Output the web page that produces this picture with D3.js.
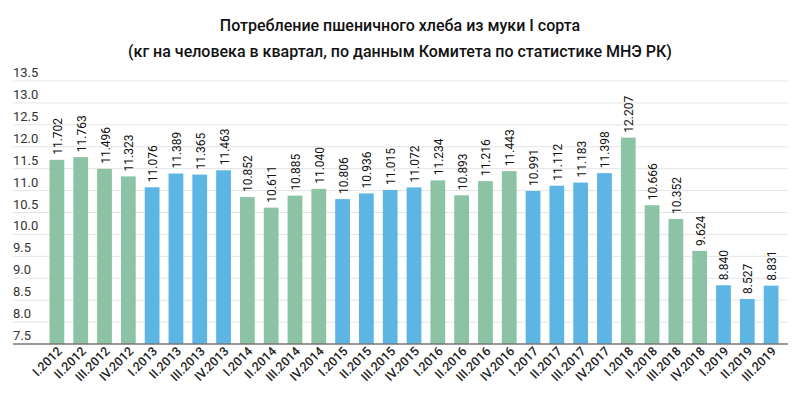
<!DOCTYPE html>
<html>
<head>
<meta charset="utf-8">
<script src="https://cdn.jsdelivr.net/npm/d3@7"></script>
<style>
  body { margin: 0; background: #fff; }
  svg { display: block; font-family: Roboto, "Noto Sans", sans-serif; }
</style>
</head>
<body>
<div id="chart"></div>
<script>
const quarters = ['I', 'II', 'III', 'IV'];
const years = [2012, 2013, 2014, 2015, 2016, 2017, 2018, 2019];
const categories = [];
years.forEach(y => quarters.forEach(q => categories.push(q + '.' + y)));
categories.length = 31; // up to III.2019

const values = [
    11.702, 11.763, 11.496, 11.323,
    11.076, 11.389, 11.365, 11.463,
    10.852, 10.611, 10.885, 11.040,
    10.806, 10.936, 11.015, 11.072,
    11.234, 10.893, 11.216, 11.443,
    10.991, 11.112, 11.183, 11.398,
    12.207, 10.666, 10.352, 9.624,
    8.840, 8.527, 8.831
];

const yTicks = [7.5, 8.0, 8.5, 9.0, 9.5, 10.0, 10.5, 11.0, 11.5, 12.0, 12.5, 13.0, 13.5];
const titleLines = [
    'Потребление пшеничного хлеба из муки I сорта',
    '(кг на человека в квартал, по данным Комитета по статистике МНЭ РК)'
];

const width = 800, height = 394;
const GREEN = '#8cc3a5', BLUE = '#5db5e3';

const svg = d3.select('#chart').append('svg')
    .attr('width', width).attr('height', height);

// Title
svg.selectAll('.title')
    .data(titleLines)
    .enter().append('text')
    .attr('x', 400)
    .attr('y', (d, i) => 31 + i * 26)
    .attr('text-anchor', 'middle')
    .style('font-size', '16px')
    .style('font-weight', '500')
    .style('fill', '#111')
    .text(d => d);

const y = d3.scaleLinear().domain([7.5, 13.5]).range([344, 81]);
const x = d3.scaleBand().domain(categories).range([45, 783]).paddingInner(0.38).paddingOuter(0.19);

// Grid + y labels
const grid = svg.append('g');
yTicks.forEach(t => {
    if (t > 7.5) {
        grid.append('line')
            .attr('x1', 13).attr('x2', 788)
            .attr('y1', y(t)).attr('y2', y(t))
            .style('stroke', '#e4e4e4').style('stroke-width', 1);
    }
    grid.append('text')
        .attr('x', 13).attr('y', y(t) - 4)
        .style('font-size', '13px')
        .style('fill', '#333')
        .text(t.toFixed(1));
});

// Bars — colour alternates by year
const colorOf = (d, i) => (Math.floor(i / 4) % 2 === 0 ? GREEN : BLUE);

svg.append('g').selectAll('rect')
    .data(values)
    .enter().append('rect')
    .attr('x', (d, i) => x(categories[i]))
    .attr('y', d => y(d))
    .attr('width', x.bandwidth())
    .attr('height', d => y(7.5) - y(d))
    .style('fill', colorOf);

// Value labels (vertical)
svg.append('g').selectAll('text')
    .data(values)
    .enter().append('text')
    .attr('transform', (d, i) => `translate(${x(categories[i]) + x.bandwidth() / 2 + 5},${y(d) - 5}) rotate(-90)`)
    .style('font-size', '12px')
    .style('fill', '#111')
    .text(d => d.toFixed(3));

// Baseline
svg.append('line')
    .attr('x1', 13).attr('x2', 788)
    .attr('y1', y(7.5)).attr('y2', y(7.5))
    .style('stroke', '#777').style('stroke-width', 1.5);

// X labels
svg.append('g').selectAll('text')
    .data(categories)
    .enter().append('text')
    .attr('transform', d => `translate(${x(d) + x.bandwidth() / 2 + 6},${352}) rotate(-45)`)
    .attr('text-anchor', 'end')
    .style('font-size', '12.5px')
    .style('font-weight', '500')
    .style('fill', '#222')
    .text(d => d);
</script>
</body>
</html>
